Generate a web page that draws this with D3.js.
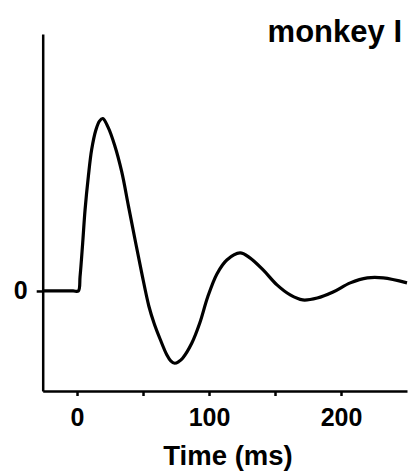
<!DOCTYPE html>
<html>
<head>
<meta charset="utf-8">
<script src="https://cdn.jsdelivr.net/npm/d3@7"></script>
<style>
  body { margin: 0; background: #fff; }
  svg text { font-family: "Liberation Sans", Arial, sans-serif; font-weight: bold; fill: #000; }
  .axis path, .axis line { stroke: #000; stroke-width: 2.5; }
</style>
</head>
<body>
<svg id="chart" width="409" height="472"></svg>
<script>
  // response trace, time in ms, amplitude normalised to the first peak
  const times = [-26, -3, 1, 2.3, 4.3, 6.1, 8.6, 11.1, 14.4, 17, 19.5, 23.5, 28.5, 33.9, 38.9, 43.9, 49, 54.5, 58.5, 63, 68, 71, 74, 77, 80, 87, 93, 99, 106, 113.5, 123.5, 131, 141, 151.5, 161.5, 171, 182, 194, 207, 220, 232, 250];
  const values = [0, 0, 0, 0.083, 0.279, 0.471, 0.665, 0.82, 0.936, 0.985, 1.0, 0.95, 0.845, 0.69, 0.495, 0.3, 0.105, -0.09, -0.19, -0.28, -0.37, -0.405, -0.419, -0.41, -0.39, -0.302, -0.186, -0.035, 0.099, 0.18, 0.221, 0.192, 0.122, 0.035, -0.023, -0.052, -0.041, -0.006, 0.047, 0.076, 0.076, 0.047];
  const xTicks = [0, 50, 100, 150, 200];
  const xTickLabels = ['0', '', '100', '', '200'];
  const yTicks = [0];
  const yTickLabels = ['0'];

  const data = times.map((t, i) => ({ t: t, v: values[i] }));

  const svg = d3.select('#chart');

  const x = d3.scaleLinear().domain([-26, 250]).range([42.7, 407]);
  const y = d3.scaleLinear().domain([-0.58, 1.49]).range([391, 34]);

  svg.append('g')
    .attr('class', 'axis axis-x')
    .attr('transform', 'translate(0,' + y.range()[0] + ')')
    .call(d3.axisBottom(x)
      .tickValues(xTicks)
      .tickFormat((d, i) => xTickLabels[i])
      .tickSize(5)
      .tickSizeOuter(0)
      .tickPadding(12))
    .call(g => g.selectAll('text').attr('font-size', 25));

  svg.append('g')
    .attr('class', 'axis axis-y')
    .attr('transform', 'translate(' + x.range()[0] + ',0)')
    .call(d3.axisLeft(y)
      .tickValues(yTicks)
      .tickFormat((d, i) => yTickLabels[i])
      .tickSize(6)
      .tickSizeOuter(0)
      .tickPadding(9))
    .call(g => g.selectAll('text').attr('font-size', 25));

  svg.selectAll('.axis').attr('font-family', null).attr('font-size', null);

  const line = d3.line()
    .x(d => x(d.t))
    .y(d => y(d.v))
    .curve(d3.curveCatmullRom.alpha(0.5));

  svg.append('path')
    .datum(data)
    .attr('fill', 'none')
    .attr('stroke', '#000')
    .attr('stroke-width', 3.2)
    .attr('stroke-linejoin', 'round')
    .attr('d', line);

  svg.append('text')
    .attr('x', 228)
    .attr('y', 465)
    .attr('text-anchor', 'middle')
    .attr('font-size', 27.5)
    .text('Time (ms)');

  svg.append('text')
    .attr('x', 402)
    .attr('y', 42)
    .attr('text-anchor', 'end')
    .attr('font-size', 31)
    .text('monkey I');
</script>
</body>
</html>
